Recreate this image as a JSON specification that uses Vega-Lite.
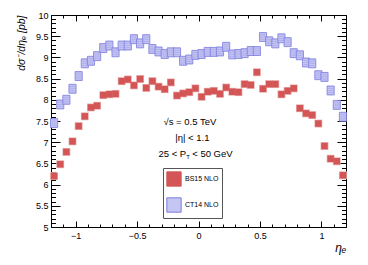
{
  "$schema": "https://vega.github.io/schema/vega-lite/v6.json",
  "width": 295,
  "height": 212,
  "autosize": {"type": "none"},
  "padding": {"left": 51, "top": 15, "right": 22, "bottom": 38},
  "config": {
    "view": {"stroke": "#000", "strokeWidth": 1},
    "font": "Liberation Sans",
    "axis": {
      "domain": false, "tickColor": "#000", "labelColor": "#000",
      "labelFont": "Liberation Sans", "labelFontSize": 9, "grid": false,
      "tickWidth": 1, "titleFont": "Liberation Sans",
      "titleFontWeight": "normal", "titleColor": "#000", "zindex": 1
    }
  },
  "datasets": {
    "bs15": [
      {"eta": -1.175, "xsec": 6.20, "pdf": "BS15 NLO"},
      {"eta": -1.125, "xsec": 6.48, "pdf": "BS15 NLO"},
      {"eta": -1.075, "xsec": 6.77, "pdf": "BS15 NLO"},
      {"eta": -1.025, "xsec": 7.02, "pdf": "BS15 NLO"},
      {"eta": -0.975, "xsec": 7.38, "pdf": "BS15 NLO"},
      {"eta": -0.925, "xsec": 7.61, "pdf": "BS15 NLO"},
      {"eta": -0.875, "xsec": 7.82, "pdf": "BS15 NLO"},
      {"eta": -0.825, "xsec": 7.86, "pdf": "BS15 NLO"},
      {"eta": -0.775, "xsec": 8.11, "pdf": "BS15 NLO"},
      {"eta": -0.725, "xsec": 8.13, "pdf": "BS15 NLO"},
      {"eta": -0.675, "xsec": 8.14, "pdf": "BS15 NLO"},
      {"eta": -0.625, "xsec": 8.44, "pdf": "BS15 NLO"},
      {"eta": -0.575, "xsec": 8.48, "pdf": "BS15 NLO"},
      {"eta": -0.525, "xsec": 8.34, "pdf": "BS15 NLO"},
      {"eta": -0.475, "xsec": 8.49, "pdf": "BS15 NLO"},
      {"eta": -0.425, "xsec": 8.28, "pdf": "BS15 NLO"},
      {"eta": -0.375, "xsec": 8.44, "pdf": "BS15 NLO"},
      {"eta": -0.325, "xsec": 8.31, "pdf": "BS15 NLO"},
      {"eta": -0.275, "xsec": 8.25, "pdf": "BS15 NLO"},
      {"eta": -0.225, "xsec": 8.41, "pdf": "BS15 NLO"},
      {"eta": -0.175, "xsec": 8.10, "pdf": "BS15 NLO"},
      {"eta": -0.125, "xsec": 8.15, "pdf": "BS15 NLO"},
      {"eta": -0.075, "xsec": 8.18, "pdf": "BS15 NLO"},
      {"eta": -0.025, "xsec": 8.27, "pdf": "BS15 NLO"},
      {"eta": 0.025, "xsec": 8.07, "pdf": "BS15 NLO"},
      {"eta": 0.075, "xsec": 8.19, "pdf": "BS15 NLO"},
      {"eta": 0.125, "xsec": 8.21, "pdf": "BS15 NLO"},
      {"eta": 0.175, "xsec": 8.14, "pdf": "BS15 NLO"},
      {"eta": 0.225, "xsec": 8.29, "pdf": "BS15 NLO"},
      {"eta": 0.275, "xsec": 8.19, "pdf": "BS15 NLO"},
      {"eta": 0.325, "xsec": 8.18, "pdf": "BS15 NLO"},
      {"eta": 0.375, "xsec": 8.37, "pdf": "BS15 NLO"},
      {"eta": 0.425, "xsec": 8.35, "pdf": "BS15 NLO"},
      {"eta": 0.475, "xsec": 8.65, "pdf": "BS15 NLO"},
      {"eta": 0.525, "xsec": 8.26, "pdf": "BS15 NLO"},
      {"eta": 0.575, "xsec": 8.37, "pdf": "BS15 NLO"},
      {"eta": 0.625, "xsec": 8.37, "pdf": "BS15 NLO"},
      {"eta": 0.675, "xsec": 8.13, "pdf": "BS15 NLO"},
      {"eta": 0.725, "xsec": 8.21, "pdf": "BS15 NLO"},
      {"eta": 0.775, "xsec": 8.27, "pdf": "BS15 NLO"},
      {"eta": 0.825, "xsec": 7.80, "pdf": "BS15 NLO"},
      {"eta": 0.875, "xsec": 7.68, "pdf": "BS15 NLO"},
      {"eta": 0.925, "xsec": 7.64, "pdf": "BS15 NLO"},
      {"eta": 0.975, "xsec": 7.44, "pdf": "BS15 NLO"},
      {"eta": 1.025, "xsec": 6.91, "pdf": "BS15 NLO"},
      {"eta": 1.075, "xsec": 6.61, "pdf": "BS15 NLO"},
      {"eta": 1.125, "xsec": 6.55, "pdf": "BS15 NLO"},
      {"eta": 1.175, "xsec": 6.22, "pdf": "BS15 NLO"}
    ],
    "ct14": [
      {"eta": -1.175, "xsec": 7.45, "pdf": "CT14 NLO"},
      {"eta": -1.125, "xsec": 7.89, "pdf": "CT14 NLO"},
      {"eta": -1.075, "xsec": 8.00, "pdf": "CT14 NLO"},
      {"eta": -1.025, "xsec": 8.26, "pdf": "CT14 NLO"},
      {"eta": -0.975, "xsec": 8.56, "pdf": "CT14 NLO"},
      {"eta": -0.925, "xsec": 8.86, "pdf": "CT14 NLO"},
      {"eta": -0.875, "xsec": 8.92, "pdf": "CT14 NLO"},
      {"eta": -0.825, "xsec": 9.03, "pdf": "CT14 NLO"},
      {"eta": -0.775, "xsec": 9.22, "pdf": "CT14 NLO"},
      {"eta": -0.725, "xsec": 9.28, "pdf": "CT14 NLO"},
      {"eta": -0.675, "xsec": 9.12, "pdf": "CT14 NLO"},
      {"eta": -0.625, "xsec": 9.28, "pdf": "CT14 NLO"},
      {"eta": -0.575, "xsec": 9.28, "pdf": "CT14 NLO"},
      {"eta": -0.525, "xsec": 9.43, "pdf": "CT14 NLO"},
      {"eta": -0.475, "xsec": 9.33, "pdf": "CT14 NLO"},
      {"eta": -0.425, "xsec": 9.43, "pdf": "CT14 NLO"},
      {"eta": -0.375, "xsec": 9.20, "pdf": "CT14 NLO"},
      {"eta": -0.325, "xsec": 9.14, "pdf": "CT14 NLO"},
      {"eta": -0.275, "xsec": 9.08, "pdf": "CT14 NLO"},
      {"eta": -0.225, "xsec": 9.12, "pdf": "CT14 NLO"},
      {"eta": -0.175, "xsec": 9.12, "pdf": "CT14 NLO"},
      {"eta": -0.125, "xsec": 8.92, "pdf": "CT14 NLO"},
      {"eta": -0.075, "xsec": 8.95, "pdf": "CT14 NLO"},
      {"eta": -0.025, "xsec": 9.06, "pdf": "CT14 NLO"},
      {"eta": 0.025, "xsec": 9.08, "pdf": "CT14 NLO"},
      {"eta": 0.075, "xsec": 9.13, "pdf": "CT14 NLO"},
      {"eta": 0.125, "xsec": 9.13, "pdf": "CT14 NLO"},
      {"eta": 0.175, "xsec": 9.14, "pdf": "CT14 NLO"},
      {"eta": 0.225, "xsec": 9.25, "pdf": "CT14 NLO"},
      {"eta": 0.275, "xsec": 9.07, "pdf": "CT14 NLO"},
      {"eta": 0.325, "xsec": 9.08, "pdf": "CT14 NLO"},
      {"eta": 0.375, "xsec": 9.10, "pdf": "CT14 NLO"},
      {"eta": 0.425, "xsec": 9.15, "pdf": "CT14 NLO"},
      {"eta": 0.475, "xsec": 9.15, "pdf": "CT14 NLO"},
      {"eta": 0.525, "xsec": 9.48, "pdf": "CT14 NLO"},
      {"eta": 0.575, "xsec": 9.38, "pdf": "CT14 NLO"},
      {"eta": 0.625, "xsec": 9.33, "pdf": "CT14 NLO"},
      {"eta": 0.675, "xsec": 9.45, "pdf": "CT14 NLO"},
      {"eta": 0.725, "xsec": 9.36, "pdf": "CT14 NLO"},
      {"eta": 0.775, "xsec": 9.10, "pdf": "CT14 NLO"},
      {"eta": 0.825, "xsec": 9.05, "pdf": "CT14 NLO"},
      {"eta": 0.875, "xsec": 8.88, "pdf": "CT14 NLO"},
      {"eta": 0.925, "xsec": 8.86, "pdf": "CT14 NLO"},
      {"eta": 0.975, "xsec": 8.58, "pdf": "CT14 NLO"},
      {"eta": 1.025, "xsec": 8.54, "pdf": "CT14 NLO"},
      {"eta": 1.075, "xsec": 8.22, "pdf": "CT14 NLO"},
      {"eta": 1.125, "xsec": 7.88, "pdf": "CT14 NLO"},
      {"eta": 1.175, "xsec": 7.60, "pdf": "CT14 NLO"}
    ]
  },
  "layer": [
    {
      "data": {"name": "ct14"},
      "mark": {"type": "point", "shape": "M-0.8,-1H0.8V1H-0.8Z", "filled": true, "size": 80, "strokeWidth": 0.8, "opacity": 1},
      "encoding": {
        "x": {"field": "eta", "type": "quantitative", "scale": {"domain": [-1.2, 1.2], "nice": false, "zero": false},
          "axis": {"orient": "top", "values": [-1, -0.5, 0, 0.5, 1], "labels": false, "tickSize": 6, "offset": -6, "title": null}},
        "y": {"field": "xsec", "type": "quantitative", "scale": {"domain": [5, 10], "nice": false, "zero": false},
          "axis": {"orient": "right", "values": [5, 5.5, 6, 6.5, 7, 7.5, 8, 8.5, 9, 9.5, 10], "labels": false, "tickSize": 9, "offset": -9, "title": null}},
        "color": {"field": "pdf", "type": "nominal", "scale": {"domain": ["BS15 NLO", "CT14 NLO"], "range": ["#d35555", "#c6c6f2"]},
          "legend": {"orient": "none", "legendX": 112, "legendY": 153, "title": null, "symbolType": "square", "symbolSize": 205, "labelFontSize": 7, "labelFont": "Liberation Sans", "labelColor": "#000", "strokeColor": "#555", "fillColor": "#fff", "padding": 3, "rowPadding": 6, "labelOffset": 3, "symbolStrokeWidth": 1, "symbolOpacity": 1, "labelExpr": "datum.label + '\u00a0\u00a0\u00a0\u00a0\u00a0\u00a0\u00a0\u00a0'"}},
        "stroke": {"field": "pdf", "type": "nominal", "scale": {"domain": ["BS15 NLO", "CT14 NLO"], "range": ["#d35555", "#7c7ce0"]},
          "legend": {"orient": "none", "legendX": 112, "legendY": 153, "title": null, "symbolType": "square", "symbolSize": 205, "labelFontSize": 7, "labelFont": "Liberation Sans", "labelColor": "#000", "strokeColor": "#555", "fillColor": "#fff", "padding": 3, "rowPadding": 6, "labelOffset": 3, "symbolStrokeWidth": 1, "symbolOpacity": 1, "labelExpr": "datum.label + '\u00a0\u00a0\u00a0\u00a0\u00a0\u00a0\u00a0\u00a0'"}}
      }
    },
    {
      "data": {"name": "ct14"},
      "mark": {"type": "point", "shape": "M-0.8,-0.5H0.8M-0.8,0H0.8M-0.8,0.5H0.8M-0.4,-1V1M0,-1V1M0.4,-1V1", "filled": false, "size": 80, "strokeWidth": 0.5, "color": "#8c8ce6", "opacity": 0.8, "strokeDash": [1, 1]},
      "encoding": {
        "x": {"field": "eta", "type": "quantitative",
          "axis": {"orient": "top", "values": [-1.2, -1.1, -0.9, -0.8, -0.7, -0.6, -0.4, -0.3, -0.2, -0.1, 0.1, 0.2, 0.3, 0.4, 0.6, 0.7, 0.8, 0.9, 1.1, 1.2], "labels": false, "tickSize": 3, "offset": -3, "title": null}},
        "y": {"field": "xsec", "type": "quantitative",
          "axis": {"orient": "right", "values": [5.1, 5.2, 5.3, 5.4, 5.6, 5.7, 5.8, 5.9, 6.1, 6.2, 6.3, 6.4, 6.6, 6.7, 6.8, 6.9, 7.1, 7.2, 7.3, 7.4, 7.6, 7.7, 7.8, 7.9, 8.1, 8.2, 8.3, 8.4, 8.6, 8.7, 8.8, 8.9, 9.1, 9.2, 9.3, 9.4, 9.6, 9.7, 9.8, 9.9], "labels": false, "tickSize": 4.5, "offset": -4.5, "title": null}}
      }
    },
    {
      "data": {"name": "bs15"},
      "mark": {"type": "point", "shape": "square", "filled": true, "size": 62, "color": "#eab0b0", "opacity": 1},
      "encoding": {
        "x": {"field": "eta", "type": "quantitative",
          "axis": {"orient": "bottom", "values": [-1.2, -1.1, -0.9, -0.8, -0.7, -0.6, -0.4, -0.3, -0.2, -0.1, 0.1, 0.2, 0.3, 0.4, 0.6, 0.7, 0.8, 0.9, 1.1, 1.2], "labels": false, "tickSize": 3, "offset": -3, "title": null}},
        "y": {"field": "xsec", "type": "quantitative",
          "axis": {"orient": "left", "values": [5.1, 5.2, 5.3, 5.4, 5.6, 5.7, 5.8, 5.9, 6.1, 6.2, 6.3, 6.4, 6.6, 6.7, 6.8, 6.9, 7.1, 7.2, 7.3, 7.4, 7.6, 7.7, 7.8, 7.9, 8.1, 8.2, 8.3, 8.4, 8.6, 8.7, 8.8, 8.9, 9.1, 9.2, 9.3, 9.4, 9.6, 9.7, 9.8, 9.9], "labels": false, "tickSize": 4.5, "offset": -4.5, "title": null}}
      }
    },
    {
      "data": {"name": "bs15"},
      "mark": {"type": "point", "shape": "square", "filled": true, "size": 42, "opacity": 1},
      "encoding": {
        "x": {"field": "eta", "type": "quantitative",
          "axis": {"orient": "bottom", "values": [-1, -0.5, 0, 0.5, 1], "format": "~g", "tickSize": 6, "offset": -6, "labelPadding": 4, "title": "ηₑ", "titleAnchor": "end", "titleFontStyle": "italic", "titleFontSize": 12, "titlePadding": 2}},
        "y": {"field": "xsec", "type": "quantitative",
          "axis": {"orient": "left", "values": [5, 5.5, 6, 6.5, 7, 7.5, 8, 8.5, 9, 9.5, 10], "format": "~g", "tickSize": 9, "offset": -9, "labelPadding": 3, "title": "dσ⁻/dηₑ [pb]", "titleAnchor": "end", "titleFontStyle": "italic", "titleFontSize": 10.5, "titlePadding": 9}},
        "color": {"field": "pdf", "type": "nominal"}
      }
    },
    {
      "data": {"values": [{"label": "√s = 0.5 TeV"}]},
      "mark": {"type": "text", "fontSize": 9.5, "align": "center", "baseline": "middle", "color": "#000"},
      "encoding": {
        "x": {"datum": -0.07, "type": "quantitative", "axis": null},
        "y": {"datum": 7.48, "type": "quantitative", "axis": null},
        "text": {"field": "label"}
      }
    },
    {
      "data": {"values": [{"label": "|η| < 1.1"}]},
      "mark": {"type": "text", "fontSize": 9.5, "align": "center", "baseline": "middle", "color": "#000"},
      "encoding": {
        "x": {"datum": -0.05, "type": "quantitative", "axis": null},
        "y": {"datum": 7.1, "type": "quantitative", "axis": null},
        "text": {"field": "label"}
      }
    },
    {
      "data": {"values": [{"label": "25 < P"}]},
      "mark": {"type": "text", "fontSize": 9.5, "align": "right", "baseline": "middle", "color": "#000"},
      "encoding": {
        "x": {"datum": -0.1, "type": "quantitative", "axis": null},
        "y": {"datum": 6.72, "type": "quantitative", "axis": null},
        "text": {"field": "label"}
      }
    },
    {
      "data": {"values": [{"label": "T"}]},
      "mark": {"type": "text", "fontSize": 6, "align": "left", "baseline": "middle", "color": "#000", "dy": 3},
      "encoding": {
        "x": {"datum": -0.1, "type": "quantitative", "axis": null},
        "y": {"datum": 6.72, "type": "quantitative", "axis": null},
        "text": {"field": "label"}
      }
    },
    {
      "data": {"values": [{"label": "< 50 GeV"}]},
      "mark": {"type": "text", "fontSize": 9.5, "align": "left", "baseline": "middle", "color": "#000", "dx": 6},
      "encoding": {
        "x": {"datum": -0.1, "type": "quantitative", "axis": null},
        "y": {"datum": 6.72, "type": "quantitative", "axis": null},
        "text": {"field": "label"}
      }
    }
  ],
  "resolve": {"axis": {"x": "independent", "y": "independent"}}
}
